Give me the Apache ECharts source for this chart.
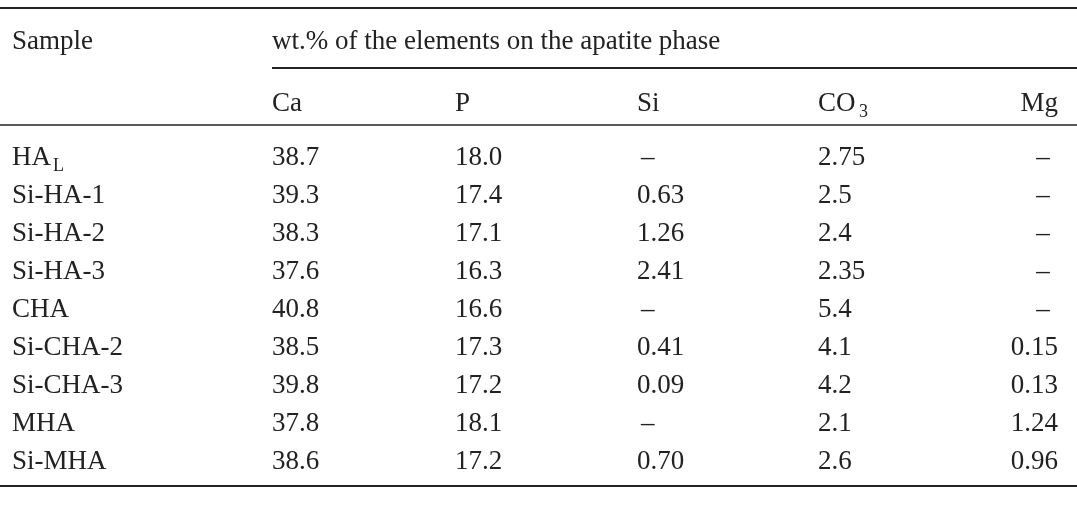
<!DOCTYPE html>
<html><head><meta charset="utf-8">
<script src="https://cdn.jsdelivr.net/npm/echarts@6/dist/echarts.min.js"></script>
<style>html,body{margin:0;background:#fff}#c{width:1077px;height:528px}</style>
</head><body><div id="c"></div>
<script>
var samples = ['HA', 'Si-HA-1', 'Si-HA-2', 'Si-HA-3', 'CHA', 'Si-CHA-2', 'Si-CHA-3', 'MHA', 'Si-MHA'];
var ca = ['38.7', '39.3', '38.3', '37.6', '40.8', '38.5', '39.8', '37.8', '38.6'];
var p = ['18.0', '17.4', '17.1', '16.3', '16.6', '17.3', '17.2', '18.1', '17.2'];
var si = ['–', '0.63', '1.26', '2.41', '–', '0.41', '0.09', '–', '0.70'];
var co3 = ['2.75', '2.5', '2.4', '2.35', '5.4', '4.1', '4.2', '2.1', '2.6'];
var mg = ['–', '–', '–', '–', '–', '0.15', '0.13', '1.24', '0.96'];
var headers = ['Ca', 'P', 'Si', 'CO', 'Mg'];

var font = '"Liberation Serif", "DejaVu Serif", serif';
var colX = [272, 455, 637, 818];
var rowY0 = 158, rowH = 38;
var els = [];

function txt(x, y, s, size, align) {
    els.push({type: 'text', x: x, y: y, style: {
        text: s, fill: '#222', font: (size || 27) + 'px ' + font,
        textAlign: align || 'left', textVerticalAlign: 'middle'
    }});
}
function rule(x1, x2, y, w) {
    els.push({type: 'line', shape: {x1: x1, y1: y, x2: x2, y2: y}, style: {stroke: '#222', lineWidth: w || 2}});
}

rule(0, 1077, 8);
rule(272, 1077, 68);
rule(0, 1077, 125, 1.5);
rule(0, 1077, 486);

txt(12, 42, 'Sample');
txt(272, 42, 'wt.% of the elements on the apatite phase');
for (var h = 0; h < 4; h++) txt(colX[h], 104, headers[h]);
txt(859, 112, '3', 18);
txt(1058, 104, headers[4], 27, 'right');

var cols = [ca, p, si, co3];
samples.forEach(function (s, i) {
    var y = rowY0 + i * rowH;
    txt(12, y, s);
    if (i === 0) txt(53, y + 8, 'L', 18);
    cols.forEach(function (arr, c) {
        txt(colX[c] + (arr[i] === '–' ? 4 : 0), y, arr[i]);
    });
    if (mg[i] === '–') txt(1043, y, '–', 27, 'center');
    else txt(1058, y, mg[i], 27, 'right');
});

var chart = echarts.init(document.getElementById('c'));
chart.setOption({animation: false, graphic: els});
</script></body></html>
